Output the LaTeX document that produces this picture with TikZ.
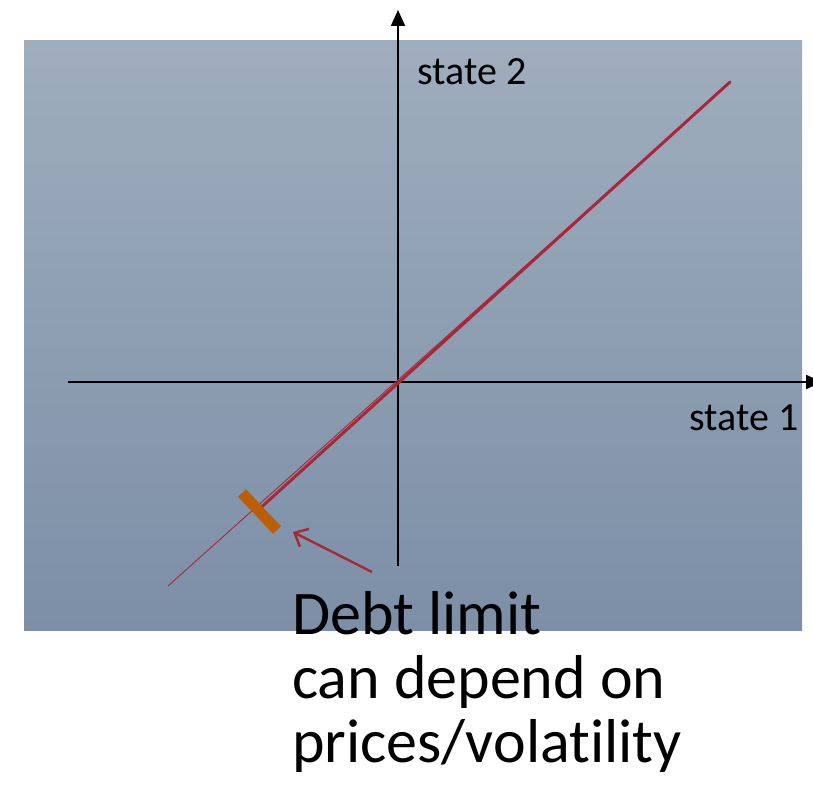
\documentclass[tikz,border=0pt]{standalone}
\usepackage{fontspec}
\setmainfont{Carlito}[Ligatures={NoCommon}]
\usepackage{xcolor}
\usetikzlibrary{arrows.meta,positioning,calc}
\definecolor{zw}{RGB}{0,0,0}
\definecolor{bgtop}{RGB}{159,173,189}
\definecolor{bgbot}{RGB}{124,143,167}
\definecolor{ro}{RGB}{168,40,56}
\definecolor{or}{RGB}{186,94,8}

\begin{document}
\begin{tikzpicture}[x=1pt,y=-1pt]
  \useasboundingbox (0,0) rectangle (813,797);

  % background panel
  \shade[top color=bgtop,bottom color=bgbot] (24,41) rectangle (802,630);

  % axes
  \coordinate (o) at (398,382);
  \coordinate (ybot) at (398,566);
  \coordinate (ytop) at (398,10);
  \coordinate (xleft) at (68,382);
  \coordinate (xright) at (822,382);
  \draw[line width=2pt,-{Triangle[length=16pt,width=14pt]}] (ybot) -- (ytop);
  \draw[line width=2pt,-{Triangle[length=16pt,width=14pt]}] (xleft) -- (xright);

  % axis labels
  \node[anchor=base west,font=\fontsize{40}{44}\selectfont] (s2) at (414,85) {state 2};
  \node[anchor=base east,font=\fontsize{40}{44}\selectfont] (s1) at (802,430) {state 1};

  % budget lines
  \coordinate (hi) at (730,82);
  \coordinate (lo) at (256,512);
  \coordinate (thinlo) at (168,586);
  \coordinate (thinhi) at (590,208);
  \draw[ro,line width=0.9pt] (thinlo) -- (thinhi);
  \draw[ro,line width=3pt,line cap=round] (hi) -- (lo);

  % debt limit marker
  \coordinate (ma) at (242,493);
  \coordinate (mb) at (277,530);
  \draw[or,line width=11pt] (ma) -- (mb);

  % text
  \node[anchor=north west,align=left,inner sep=0pt,
        font=\fontsize{62}{64}\selectfont] (debt) at (292,591)
        {Debt limit\\can depend on\\prices/volatility};

  % pointer
  \coordinate (ptail) at (372,572);
  \coordinate (phead) at (293,532);
  \draw[ro,line width=2.4pt,-{Straight Barb[length=11pt,width=20pt]}] (ptail) -- (phead);
\end{tikzpicture}
\end{document}
